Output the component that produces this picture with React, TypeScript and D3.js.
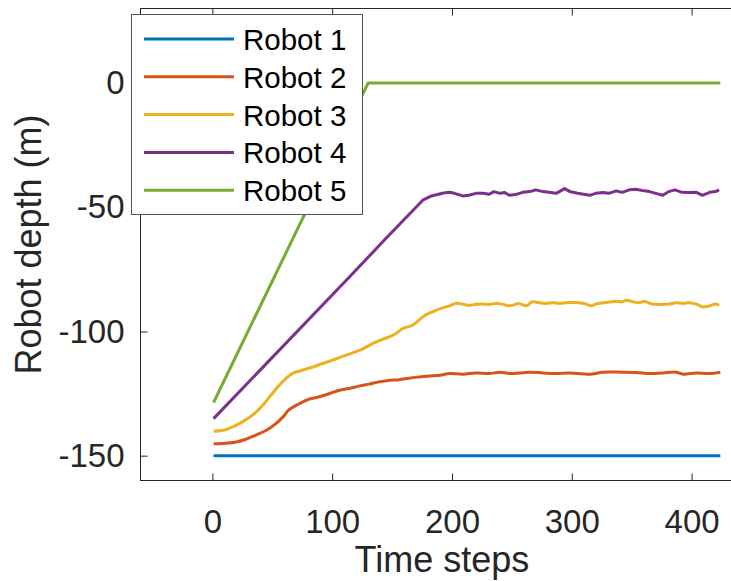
// Robot depth over time steps, MATLAB-style line chart drawn with D3
import { useEffect, useRef } from 'react';
import * as d3 from 'd3';

type Pt = [number, number];

const seriesNames = ['Robot 1', 'Robot 2', 'Robot 3', 'Robot 4', 'Robot 5'];
const xTicks = [0, 100, 200, 300, 400];
const yTicks = [-150, -100, -50, 0];

// [time step, depth (m)]
const robot1: Pt[] = [[1, -150], [424, -150]];

const robot2: Pt[] = [
  [1, -145.2], [11, -145.0], [20, -144.5], [28, -143.4], [36, -141.8], [45, -139.8],
  [53, -137.1], [59, -134.4], [64, -131.5], [73, -129.0], [81, -127.2], [89, -126.3],
  [98, -125.0], [106, -123.7], [114, -123.0], [123, -121.9], [131, -121.2], [139, -120.3],
  [148, -119.6], [156, -119.4], [164, -118.8], [173, -118.3], [181, -117.9], [190, -117.6],
  [198, -116.95], [209, -117.2], [220, -116.7], [231, -116.95], [240, -116.4], [248, -116.95],
  [265, -116.4], [276, -116.7], [287, -116.95], [298, -116.7], [315, -117.2], [326, -116.4],
  [342, -116.4], [354, -116.5], [365, -116.95], [376, -116.7], [387, -116.4], [393, -117.2],
  [404, -116.7], [415, -116.95], [424, -116.4]
];

const robot3: Pt[] = [
  [1, -140.2], [9, -139.8], [17, -138.4], [25, -136.4], [34, -133.5], [42, -129.7],
  [50, -125.0], [56, -121.6], [62, -118.7], [67, -116.9], [75, -115.6], [84, -114.3],
  [92, -112.9], [100, -111.6], [109, -110.0], [117, -108.6], [126, -106.9], [134, -104.8],
  [142, -103.2], [151, -101.5], [159, -98.8], [167, -97.5], [173, -95.2], [178, -93.4],
  [187, -91.4], [195, -90.1], [198, -89.7], [203, -88.7], [209, -89.0], [214, -89.5],
  [220, -89.1], [226, -89.0], [231, -89.1], [237, -88.7], [242, -89.0], [247, -89.7],
  [251, -89.4], [256, -88.7], [262, -89.7], [267, -88.05], [273, -88.45], [279, -88.7],
  [284, -88.45], [290, -88.7], [295, -88.45], [301, -88.3], [306, -88.45], [312, -89.0],
  [316, -89.7], [320, -89.0], [326, -88.45], [331, -88.2], [337, -87.8], [342, -88.05],
  [345, -87.4], [351, -88.05], [356, -88.45], [361, -87.8], [365, -88.7], [370, -89.1],
  [376, -89.1], [381, -89.0], [387, -88.45], [393, -88.7], [398, -88.45], [404, -89.0],
  [409, -90.1], [415, -89.7], [420, -89.0], [423, -89.5]
];

const robot4: Pt[] = [
  [1, -135.1], [112, -79.3], [145, -62.5], [176, -47.0], [182, -45.6], [187, -45.0],
  [193, -44.3], [198, -44.0], [202, -44.4], [209, -45.45], [214, -45.2], [220, -44.4],
  [226, -44.4], [231, -44.8], [235, -43.7], [240, -44.4], [244, -44.1], [248, -45.2],
  [253, -44.9], [259, -44.0], [265, -43.7], [270, -43.0], [276, -43.7], [281, -44.0],
  [287, -44.4], [294, -42.5], [299, -43.8], [305, -44.4], [315, -45.2], [320, -44.4],
  [326, -44.1], [331, -44.4], [337, -43.4], [342, -44.0], [348, -43.0], [354, -42.8],
  [359, -43.3], [365, -43.7], [370, -44.4], [376, -45.2], [381, -43.7], [386, -43.0],
  [392, -44.0], [398, -44.1], [404, -44.0], [409, -45.2], [415, -44.0], [420, -43.7],
  [423, -43.0]
];

const robot5: Pt[] = [[1, -128.6], [130, 0], [424, 0]];

const allSeries = [robot1, robot2, robot3, robot4, robot5];
const colors = ['#0072BD', '#D95319', '#EDB120', '#7E2F8E', '#77AC30'];
const smooth = [false, true, true, false, false];

const W = 731;
const H = 581;
const FONT = '"Liberation Sans", Arial, Helvetica, sans-serif';

export default function App() {
  const svgRef = useRef<SVGSVGElement>(null);

  useEffect(() => {
    if (!svgRef.current) return;
    const svg = d3.select(svgRef.current);
    svg.selectAll('*').remove();

    const left = 140.5, right = 739.5, top = 8.5, bottom = 480.5;

    const x = d3.scaleLinear().domain([-60, 440]).range([left, right]);
    const y = d3.scaleLinear().domain([-160, 30]).range([bottom, top]);

    svg.append('rect').attr('width', W).attr('height', H).attr('fill', '#fff');

    // Lines
    allSeries.forEach((series, i) => {
      const line = d3.line<Pt>()
        .x(d => x(d[0]))
        .y(d => y(d[1]))
        .curve(smooth[i] ? d3.curveCatmullRom.alpha(0.5) : d3.curveLinear);
      svg.append('path')
        .datum(series)
        .attr('d', line)
        .attr('fill', 'none')
        .attr('stroke', colors[i])
        .attr('stroke-width', 3)
        .attr('stroke-linejoin', 'round');
    });

    // Axes box
    svg.append('rect')
      .attr('x', left).attr('y', top)
      .attr('width', right - left).attr('height', bottom - top)
      .attr('fill', 'none').attr('stroke', '#262626').attr('stroke-width', 1);

    const styleAxis = (g: any) => {
      g.select('.domain').remove();
      g.selectAll('line').attr('stroke', '#262626');
      g.selectAll('text')
        .attr('fill', '#262626')
        .style('font-family', FONT)
        .style('font-size', '33px');
    };

    // plain hyphen for negatives, like the original
    const fmt = (d: any) => String(d);

    svg.append('g')
      .attr('transform', `translate(0,${bottom})`)
      .call(d3.axisBottom(x).tickValues(xTicks).tickSize(-7).tickPadding(29).tickFormat(fmt))
      .call(styleAxis);

    svg.append('g')
      .attr('transform', `translate(0,${top})`)
      .call(d3.axisTop(x).tickValues(xTicks).tickSize(-7).tickFormat(() => ''))
      .call(styleAxis);

    svg.append('g')
      .attr('transform', `translate(${left},0)`)
      .call(d3.axisLeft(y).tickValues(yTicks).tickSize(-7).tickPadding(16).tickFormat(fmt))
      .call(styleAxis);

    // Axis labels
    svg.append('text')
      .attr('x', (x(0) + x(400)) / 2 - 10)
      .attr('y', 572)
      .attr('text-anchor', 'middle')
      .attr('fill', '#262626')
      .style('font-family', FONT)
      .style('font-size', '36px')
      .text('Time steps');

    svg.append('text')
      .attr('transform', `translate(41,${(top + bottom) / 2}) rotate(-90)`)
      .attr('text-anchor', 'middle')
      .attr('fill', '#262626')
      .style('font-family', FONT)
      .style('font-size', '36px')
      .text('Robot depth (m)');

    // Legend
    const lg = svg.append('g');
    lg.append('rect')
      .attr('x', 131.5).attr('y', 14.5)
      .attr('width', 231).attr('height', 200)
      .attr('fill', '#fff').attr('stroke', '#555').attr('stroke-width', 1);

    seriesNames.forEach((name, i) => {
      const ly = 39 + i * 37.8;
      lg.append('line')
        .attr('x1', 144).attr('x2', 234)
        .attr('y1', ly).attr('y2', ly)
        .attr('stroke', colors[i]).attr('stroke-width', 3);
      lg.append('text')
        .attr('x', 243).attr('y', ly + 11)
        .attr('fill', '#000')
        .style('font-family', FONT)
        .style('font-size', '29.5px')
        .text(name);
    });
  }, []);

  return (
    <svg
      ref={svgRef}
      width={W}
      height={H}
      style={{ position: 'absolute', left: 0, top: 0 }}
    />
  );
}
